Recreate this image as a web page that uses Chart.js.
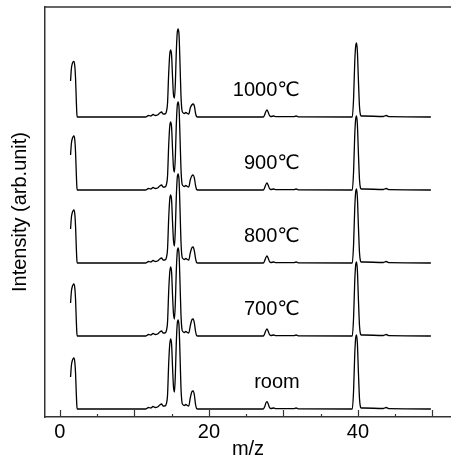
<!DOCTYPE html>
<html>
<head>
<meta charset="utf-8">
<script src="https://cdn.jsdelivr.net/npm/chart.js@4/dist/chart.umd.min.js"></script>
<style>
  html, body { margin: 0; padding: 0; background: #fff; }
  #wrap { width: 451px; height: 459px; }
</style>
</head>
<body>
<div id="wrap"><canvas id="c" width="451" height="459"></canvas></div>
<script>
// ---- data ----
const mz = [1.43,1.55,1.65,1.75,1.88,2.0,2.1,2.2,2.27,2.32,
  11.5,11.9,12.2,12.5,12.8,13.1,13.4,13.65,13.85,14.1,
  14.3,14.45,14.6,14.75,14.88,15.0,15.12,15.25,15.38,15.5,
  15.62,15.75,15.88,16.0,16.12,16.25,16.38,16.5,16.7,16.9,
  17.1,17.3,17.5,17.7,17.88,18.05,18.2,18.35,18.5,27.3,
  27.5,27.65,27.8,27.95,28.1,28.3,28.7,29.0,31.4,31.7,
  32.0,39.25,39.42,39.58,39.72,39.82,39.93,40.08,40.22,40.35,
  40.45,40.8,43.4,43.8,44.2,49.8];

const seriesNames = ["room", "700\u2103", "800\u2103", "900\u2103", "1000\u2103"];
const seriesOffsets = [0, 73, 146, 219, 292];

const roomVals = [32,44,48,50,51,47,36,16,4,0,
  0,1.5,1,2.5,1.5,2,4,5,3,3,
  5.5,14,45,65,70,64,42,22,17,35,
  65,85,89,82,55,22,7,4.5,3.5,4.5,
  3.5,3,11,17,18,14,5,0.5,0,0,
  2.5,6,7.3,5.5,2,0.5,1,0.3,0.3,1,
  0.2,0,18,55,72,74,66,35,10,2,
  1,1,0.5,1.5,0.3,0];
const t700Vals = [33,45,49,51,52,48,37,16,4,0,
  0,1.5,1,2.5,1.5,2,4,5,3,3,
  5.5,14,44,64,69,63,41,22,17,34,
  64,84,88,81,54,22,7,4.5,3.5,4.5,
  3.5,3,10,16,17,13,5,0.5,0,0,
  2.5,5.5,7,5,2,0.5,1,0.3,0.3,1,
  0.2,0,18,55,72,74,66,35,10,2,
  1,1,0.5,1.5,0.3,0];
const t800Vals = [34,46,50,52,53,49,37,16,4,0,
  0,1.5,1,2.5,1.5,2,4,5,3,3,
  5.5,14,44,64,68,62,41,22,17,35,
  65,85,89,82,55,22,7,4.5,3.5,4.5,
  3.5,3,10,15,16,12,5,0.5,0,0,
  2.5,5.5,7,5,2,0.5,1,0.3,0.3,1,
  0.2,0,18,55,72,74,66,35,10,2,
  1,1,0.5,1.5,0.3,0];
const t900Vals = [35,47,51,53,54,50,38,17,4,0,
  0,1.5,1,2.5,1.5,2,4,5,3,3,
  5.5,14,44,64,68,62,41,22,18,34,
  64,84,88,81,54,22,7,4.5,3.5,4.5,
  3.5,3,10,14,15,12,5,0.5,0,0,
  2.5,5.5,7,5,2,0.5,1,0.3,0.3,1,
  0.2,0,18,55,72,74,66,35,10,2,
  1,1,0.5,1.5,0.3,0];
const t1000Vals = [36,49,53,55,55.6,51,39,17,4,0,
  0,1.5,1,2.5,1.5,2,4,5,3,3,
  5.5,14,43,63,67,61,40,22,19,34,
  64,84,88,81,54,22,7,4.5,3.5,4.5,
  3.5,3,9,12,13,11,4,0.5,0,0,
  2.5,5.5,7,5,2,0.5,1,0.3,0.3,1,
  0.2,0,18,55,72,74,66,35,10,2,
  1,1,0.5,1.5,0.3,0];
const seriesVals = [roomVals, t700Vals, t800Vals, t900Vals, t1000Vals];

const xTickLabels = [0, 20, 40];
const labelX = 32.2;      // right edge of the temperature labels (m/z units)
const labelRise = 21.5;   // label baseline above each trace baseline

// ---- build datasets ----
const FONT = "'Liberation Sans', Arial, 'DejaVu Sans', sans-serif";
const datasets = seriesVals.map((vals, s) => ({
  label: seriesNames[s],
  data: vals.map((v, i) => ({ x: mz[i], y: v + seriesOffsets[s] })),
  borderColor: '#000',
  borderWidth: 1.3,
  pointRadius: 0,
  fill: false,
  cubicInterpolationMode: 'monotone'
}));

const framePlugin = {
  id: 'frame',
  afterDraw(chart) {
    const { ctx, chartArea: a, scales } = chart;
    const xs = scales.x, ys = scales.y;
    ctx.save();
    // top frame line
    ctx.strokeStyle = '#333';
    ctx.lineWidth = 1.5;
    ctx.beginPath();
    ctx.moveTo(a.left, a.top);
    ctx.lineTo(a.right, a.top);
    ctx.stroke();
    // inward ticks
    ctx.lineWidth = 1.2;
    for (let v = 0; v <= 50; v += 5) {
      const px = Math.round(xs.getPixelForValue(v)) + 0.5;
      const len = (v % 10 === 0) ? 7 : 3;
      ctx.beginPath();
      ctx.moveTo(px, a.bottom);
      ctx.lineTo(px, a.bottom - len);
      ctx.stroke();
    }
    // temperature labels
    ctx.fillStyle = '#000';
    ctx.font = '20px ' + FONT;
    ctx.textAlign = 'right';
    ctx.textBaseline = 'alphabetic';
    seriesNames.forEach((name, s) => {
      ctx.fillText(name, xs.getPixelForValue(labelX), ys.getPixelForValue(seriesOffsets[s] + labelRise));
    });
    ctx.restore();
  }
};

new Chart(document.getElementById('c'), {
  type: 'line',
  data: { datasets },
  options: {
    responsive: false,
    animation: false,
    layout: { padding: { top: 7, right: 0, left: 0, bottom: 0 } },
    plugins: { legend: { display: false }, tooltip: { enabled: false } },
    scales: {
      x: {
        type: 'linear',
        min: -2.0,
        max: 52.5,
        afterBuildTicks(scale) { scale.ticks = xTickLabels.map(v => ({ value: v })); },
        afterFit(scale) { scale.height = 42; },
        grid: { display: false, drawTicks: false },
        border: { display: true, color: '#333', width: 1.5 },
        ticks: { color: '#000', padding: 3, font: { size: 20, family: FONT }, maxRotation: 0, autoSkip: false },
        title: { display: true, text: 'm/z', color: '#000', font: { size: 20, family: FONT, lineHeight: 1 }, padding: 0 }
      },
      y: {
        type: 'linear',
        min: -8,
        max: 402,
        afterFit(scale) { scale.width = 45; },
        grid: { display: false, drawTicks: false },
        border: { display: true, color: '#333', width: 1.5 },
        ticks: { display: false },
        title: { display: true, text: 'Intensity (arb.unit)', color: '#000', font: { size: 20, family: FONT }, padding: { top: 8 } }
      }
    }
  },
  plugins: [framePlugin]
});
</script>
</body>
</html>
